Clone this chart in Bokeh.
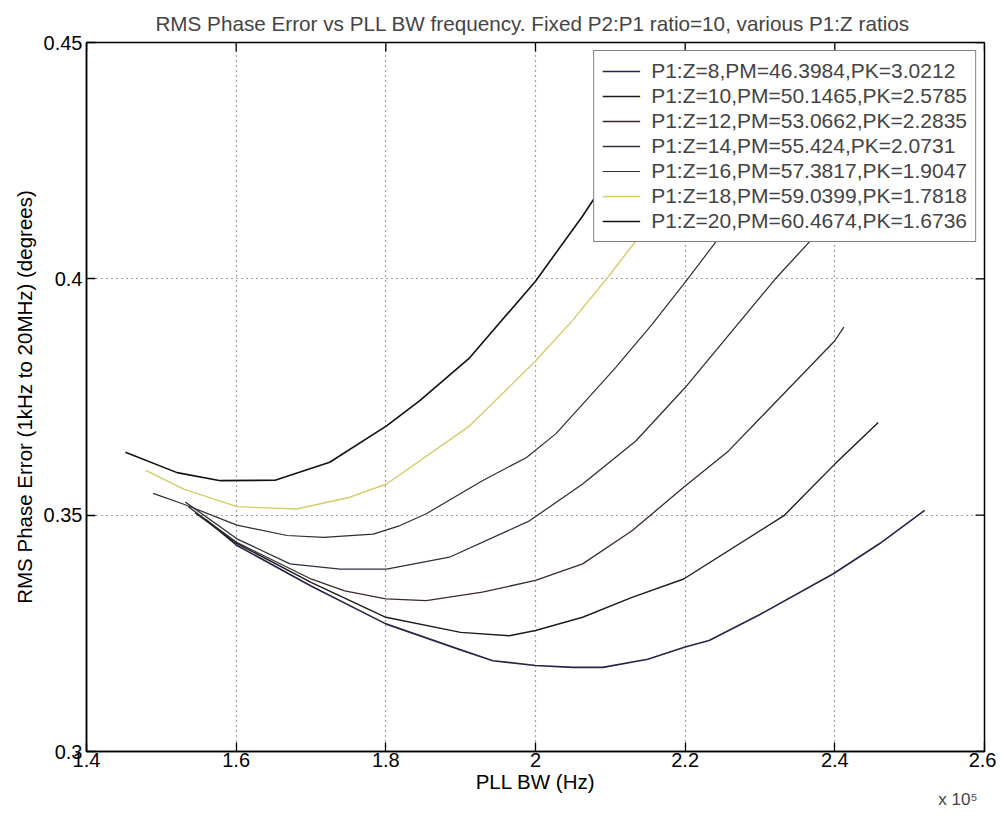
import math
from bokeh.plotting import figure
from bokeh.models import Legend, LegendItem, FixedTicker, Range1d, Title
from bokeh.embed import file_html
from bokeh.resources import INLINE

# PLL bandwidth in units of 1e5 Hz, RMS phase error in degrees
bw_z8 = [1.560, 1.600, 1.700, 1.800, 1.900, 1.943, 2.000, 2.050, 2.090, 2.150, 2.200, 2.232, 2.300, 2.398, 2.460, 2.520]
err_z8 = [0.3490, 0.3437, 0.3350, 0.3270, 0.3215, 0.3192, 0.3182, 0.3178, 0.3178, 0.3195, 0.3221, 0.3235, 0.3290, 0.3376, 0.3440, 0.3510]

bw_z10 = [1.545, 1.600, 1.700, 1.800, 1.900, 1.965, 2.000, 2.063, 2.129, 2.198, 2.332, 2.400, 2.458]
err_z10 = [0.3505, 0.3441, 0.3358, 0.3284, 0.3252, 0.3245, 0.3256, 0.3284, 0.3326, 0.3365, 0.3499, 0.3608, 0.3696]

bw_z12 = [1.536, 1.600, 1.700, 1.745, 1.800, 1.854, 1.929, 2.000, 2.063, 2.129, 2.198, 2.258, 2.300, 2.400, 2.412]
err_z12 = [0.3518, 0.3443, 0.3365, 0.3340, 0.3323, 0.3319, 0.3337, 0.3362, 0.3397, 0.3467, 0.3559, 0.3636, 0.3705, 0.3869, 0.3898]

bw_z14 = [1.532, 1.601, 1.672, 1.739, 1.801, 1.885, 1.992, 2.063, 2.134, 2.200, 2.320, 2.363, 2.420, 2.480]
err_z14 = [0.3528, 0.3450, 0.3397, 0.3386, 0.3386, 0.3411, 0.3488, 0.3566, 0.3657, 0.3770, 0.3999, 0.4073, 0.4180, 0.4300]

bw_z16 = [1.489, 1.532, 1.601, 1.668, 1.717, 1.783, 1.819, 1.854, 1.929, 1.988, 2.027, 2.067, 2.107, 2.156, 2.203, 2.240, 2.300]
err_z16 = [0.3546, 0.3522, 0.3479, 0.3457, 0.3453, 0.3460, 0.3478, 0.3503, 0.3573, 0.3622, 0.3672, 0.3742, 0.3812, 0.3904, 0.3999, 0.4076, 0.4200]

bw_z18 = [1.479, 1.530, 1.601, 1.681, 1.752, 1.801, 1.912, 2.000, 2.049, 2.098, 2.134, 2.200, 2.260]
err_z18 = [0.3595, 0.3555, 0.3518, 0.3513, 0.3538, 0.3566, 0.3689, 0.3826, 0.3911, 0.4006, 0.4080, 0.4215, 0.4350]

bw_z20 = [1.452, 1.521, 1.579, 1.652, 1.725, 1.801, 1.845, 1.912, 2.000, 2.063, 2.120, 2.190]
err_z20 = [0.3633, 0.3590, 0.3573, 0.3574, 0.3612, 0.3689, 0.3742, 0.3833, 0.3995, 0.4133, 0.4270, 0.4460]

series_labels = [
    "P1:Z=8,PM=46.3984,PK=3.0212",
    "P1:Z=10,PM=50.1465,PK=2.5785",
    "P1:Z=12,PM=53.0662,PK=2.2835",
    "P1:Z=14,PM=55.424,PK=2.0731",
    "P1:Z=16,PM=57.3817,PK=1.9047",
    "P1:Z=18,PM=59.0399,PK=1.7818",
    "P1:Z=20,PM=60.4674,PK=1.6736",
]

x_ticks = [1.4, 1.6, 1.8, 2.0, 2.2, 2.4, 2.6]
x_tick_labels = ["1.4", "1.6", "1.8", "2", "2.2", "2.4", "2.6"]
y_ticks = [0.3, 0.35, 0.4, 0.45]
y_tick_labels = ["0.3", "0.35", "0.4", "0.45"]
x_multiplier = "x 10\u2075"

FONT = "Liberation Sans"
X_MIN, X_MAX = 1.4, 2.6
Y_MIN, Y_MAX = 0.3, 0.45

p = figure(width=996, height=812, output_backend="svg", toolbar_location=None,
           x_range=Range1d(X_MIN, X_MAX), y_range=Range1d(Y_MIN, Y_MAX),
           min_border_left=86, min_border_right=12, min_border_top=42, min_border_bottom=61,
           title="RMS Phase Error vs PLL BW frequency.  Fixed P2:P1 ratio=10, various P1:Z ratios")

p.title.align = "center"
p.title.text_font = FONT
p.title.text_font_size = "20.7px"
p.title.text_font_style = "normal"
p.title.standoff = 15

p.outline_line_color = "black"
p.outline_line_width = 1.5
p.outline_line_alpha = 1.0
p.background_fill_color = "white"
p.border_fill_color = "white"

for ax in (p.xaxis[0], p.yaxis[0]):
    ax.major_tick_in = 9
    ax.major_tick_out = 0
    ax.minor_tick_line_color = None
    ax.axis_line_color = "black"
    ax.axis_line_width = 1.5
    ax.major_tick_line_color = "black"
    ax.major_tick_line_width = 1.3
    ax.major_label_text_font = FONT
    ax.major_label_text_font_size = "20px"
    ax.major_label_text_color = "black"
    ax.axis_label_text_font = FONT
    ax.axis_label_text_font_size = "20.5px"
    ax.axis_label_text_font_style = "normal"
    ax.axis_label_text_color = "black"

p.xaxis.ticker = FixedTicker(ticks=x_ticks)
p.xaxis.major_label_overrides = dict(zip(x_ticks, x_tick_labels))
p.xaxis.major_label_standoff = 1
p.xaxis.axis_label = "PLL BW (Hz)"
p.xaxis.axis_label_standoff = 0

p.yaxis.ticker = FixedTicker(ticks=y_ticks)
p.yaxis.major_label_overrides = dict(zip(y_ticks, y_tick_labels))
p.yaxis.major_label_standoff = 4
p.yaxis.axis_label = "RMS Phase Error (1kHz to 20MHz) (degrees)"
p.yaxis.axis_label_standoff = 5

p.xgrid.ticker = FixedTicker(ticks=x_ticks)
p.ygrid.ticker = FixedTicker(ticks=y_ticks)
for g in (p.xgrid[0], p.ygrid[0]):
    g.grid_line_color = "black"
    g.grid_line_alpha = 0.75
    g.grid_line_dash = "1 4"
    g.grid_line_width = 1.2

# inward tick marks on the top and right edges of the box (half of each dash is clipped)
p.scatter(x=x_ticks, y=[Y_MAX] * len(x_ticks), marker="dash", angle=math.pi / 2,
          size=18, line_color="black", line_width=1.3)
p.scatter(x=[X_MAX] * len(y_ticks), y=y_ticks, marker="dash",
          size=18, line_color="black", line_width=1.3)

series = [
    (bw_z8, err_z8, "#252545", 1.6),
    (bw_z10, err_z10, "#1c1c1c", 1.4),
    (bw_z12, err_z12, "#3a2a2a", 1.3),
    (bw_z14, err_z14, "#2a323c", 1.3),
    (bw_z16, err_z16, "#2e2e2e", 1.2),
    (bw_z18, err_z18, "#d4cc68", 1.4),
    (bw_z20, err_z20, "#111111", 1.6),
]

items = []
for (xs, ys, col, lw), lab in zip(series, series_labels):
    r = p.line(xs, ys, line_color=col, line_width=lw)
    items.append(LegendItem(label=lab, renderers=[r]))

legend = Legend(items=items, location="top_right", margin=8,
                label_text_font=FONT, label_text_font_size="21px",
                label_height=20, glyph_height=20, glyph_width=38, spacing=1,
                padding=8, label_standoff=11,
                border_line_color="black", border_line_width=1.3,
                background_fill_color="white", background_fill_alpha=1.0)
p.add_layout(legend, "center")

mult = Title(text=x_multiplier, align="right", text_font=FONT, text_font_size="17px",
             text_font_style="normal", offset=7, standoff=-15)
p.add_layout(mult, "below")

open("out.html", "w").write(file_html(p, INLINE))
